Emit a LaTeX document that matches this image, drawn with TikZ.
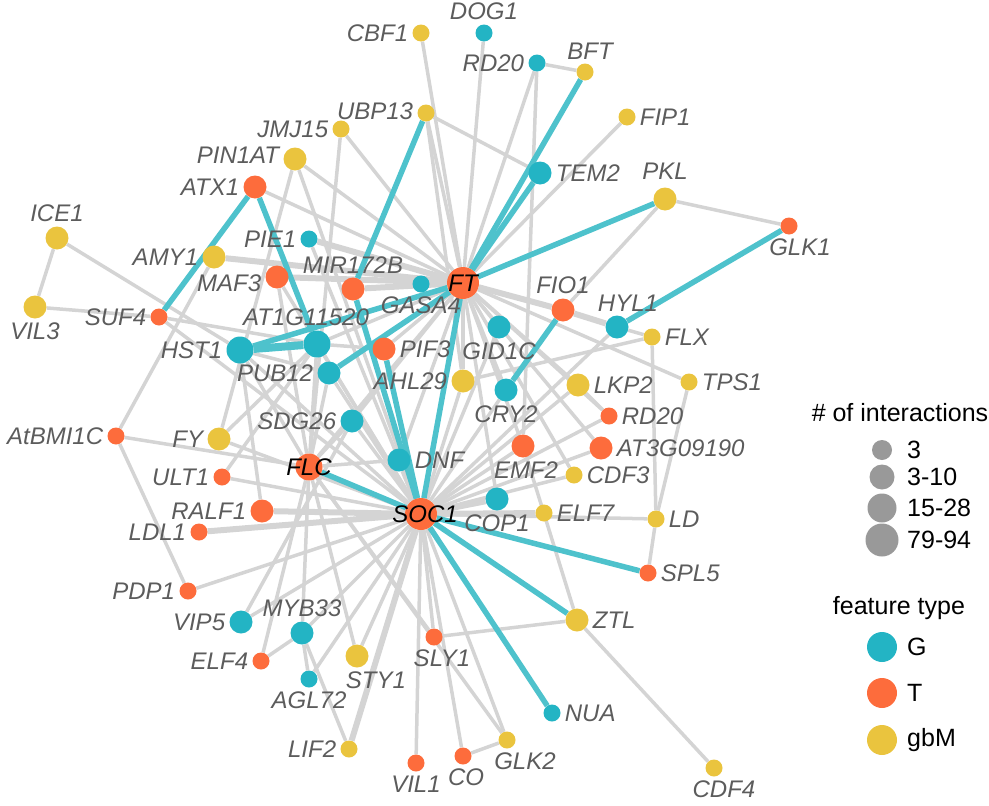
\documentclass[tikz,border=0pt]{standalone}
\usepackage{fontspec}
\setmainfont{Liberation Sans}
\usetikzlibrary{backgrounds}
\definecolor{gcol}{RGB}{35,180,196}
\definecolor{tcol}{RGB}{253,108,60}
\definecolor{mcol}{RGB}{234,196,62}
\definecolor{tealedge}{RGB}{78,194,204}
\definecolor{edgegray}{RGB}{212,212,212}
\definecolor{labgray}{RGB}{92,92,92}
\definecolor{keygray}{RGB}{153,153,153}
\begin{document}
\begin{tikzpicture}[x=1pt, y=-1pt,
		nd/.style={circle, inner sep=0pt},
		G/.style={nd, fill=gcol}, T/.style={nd, fill=tcol}, M/.style={nd, fill=mcol},
		s1/.style={minimum size=17pt}, s2/.style={minimum size=23pt},
		s3/.style={minimum size=27pt}, s4/.style={minimum size=32pt},
		lb/.style={font=\itshape\fontsize{24}{24}\selectfont, text=labgray, inner sep=1pt},
		hub/.style={font=\itshape\fontsize{24}{24}\selectfont, text=black, inner sep=0pt},
		every label/.style={lb}, label distance=3pt,
		key/.style={font=\fontsize{25}{25}\selectfont, text=black, inner sep=0pt},
		gline/.style={draw=edgegray, line width=3.5pt},
		gwide/.style={draw=edgegray, line width=6pt},
		tline/.style={draw=tealedge, line width=5.5pt},
		twide/.style={draw=tealedge, line width=8pt}]
		\useasboundingbox (0,0) rectangle (989,806);
		\node[M,s1,label=left:CBF1] (CBF1) at (421,33) {};
		\node[G,s1,label=above:DOG1] (DOG1) at (484,33) {};
		\node[G,s1,label=left:RD20] (RD20a) at (537,63) {};
		\node[M,s1,label={[xshift=5pt]above:BFT}] (BFT) at (585,72) {};
		\node[M,s1,label=right:FIP1] (FIP1) at (627,117) {};
		\node[M,s1,label={[yshift=2pt]left:UBP13}] (UBP13) at (426,113) {};
		\node[M,s1,label=left:JMJ15] (JMJ15) at (341,129) {};
		\node[M,s2,label={[yshift=4pt]left:PIN1AT}] (PIN1AT) at (295,159) {};
		\node[T,s2,label=left:ATX1] (ATX1) at (255,187) {};
		\node[G,s2,label=right:TEM2] (TEM2) at (540,173) {};
		\node[M,s2,label={[label distance=7pt]above:PKL}] (PKL) at (665,199) {};
		\node[T,s1,label={[xshift=11pt]below:GLK1}] (GLK1) at (789,226) {};
		\node[M,s2,label=above:ICE1] (ICE1) at (57,238) {};
		\node[M,s2,label=left:AMY1] (AMY1) at (214,257) {};
		\node[G,s1,label=left:PIE1] (PIE1) at (309,239) {};
		\node[T,s2,label={[yshift=-6pt]left:MAF3}] (MAF3) at (277,277) {};
		\node[T,s2,label=above:MIR172B] (MIR172B) at (353,289) {};
		\node[G,s1,label=below:GASA4] (GASA4) at (421,284) {};
		\node[T,s4,label={[hub]center:FT}] (FT) at (463,283) {};
		\node[M,s2,label=below:VIL3] (VIL3) at (35,307) {};
		\node[T,s1,label=left:SUF4] (SUF4) at (159,317) {};
		\node[G,s3,label={[xshift=-11pt]above:AT1G11520}] (AT1G11520) at (317,344) {};
		\node[G,s3,label=left:HST1] (HST1) at (240,350) {};
		\node[T,s2,label=right:PIF3] (PIF3) at (384,349) {};
		\node[G,s2,label=left:PUB12] (PUB12) at (329,373) {};
		\node[M,s2,label=left:AHL29] (AHL29) at (463,381) {};
		\node[G,s2,label=below:GID1C] (GID1C) at (499,327) {};
		\node[T,s2,label=above:FIO1] (FIO1) at (563,310) {};
		\node[G,s2,label={[xshift=11pt]above:HYL1}] (HYL1) at (617,327) {};
		\node[M,s1,label=right:FLX] (FLX) at (652,337) {};
		\node[G,s2,label=below:CRY2] (CRY2) at (506,390) {};
		\node[M,s2,label=right:LKP2] (LKP2) at (578,385) {};
		\node[M,s1,label=right:TPS1] (TPS1) at (689,382) {};
		\node[T,s1,label=right:RD20] (RD20b) at (609,416) {};
		\node[T,s2,label=right:AT3G09190] (AT3G09190) at (601,448) {};
		\node[G,s2,label=left:SDG26] (SDG26) at (352,421) {};
		\node[T,s1,label=left:AtBMI1C] (AtBMI1C) at (116,436) {};
		\node[M,s2,label=left:FY] (FY) at (219,439) {};
		\node[T,s3,label={[hub]center:FLC}] (FLC) at (309,467) {};
		\node[G,s2,label=right:DNF] (DNF) at (399,460) {};
		\node[T,s2,label={[xshift=3pt]below:EMF2}] (EMF2) at (523,446) {};
		\node[M,s1,label=right:CDF3] (CDF3) at (574,475) {};
		\node[T,s1,label=left:ULT1] (ULT1) at (222,477) {};
		\node[T,s2,label=left:RALF1] (RALF1) at (262,511) {};
		\node[T,s4,label={[hub,xshift=4pt]center:SOC1}] (SOC1) at (421,514) {};
		\node[G,s2,label=below:COP1] (COP1) at (497,499) {};
		\node[M,s1,label=right:ELF7] (ELF7) at (544,513) {};
		\node[M,s1,label=right:LD] (LD) at (656,519) {};
		\node[T,s1,label=left:LDL1] (LDL1) at (199,532) {};
		\node[T,s1,label=right:SPL5] (SPL5) at (648,573) {};
		\node[T,s1,label=left:PDP1] (PDP1) at (188,591) {};
		\node[G,s2,label=left:VIP5] (VIP5) at (241,622) {};
		\node[G,s2,label=above:MYB33] (MYB33) at (302,633) {};
		\node[M,s2,label=right:ZTL] (ZTL) at (577,620) {};
		\node[T,s1,label={[xshift=8pt]below:SLY1}] (SLY1) at (434,637) {};
		\node[T,s1,label=left:ELF4] (ELF4) at (261,661) {};
		\node[M,s2,label={[xshift=19pt]below:STY1}] (STY1) at (357,656) {};
		\node[G,s1,label=below:AGL72] (AGL72) at (309,679) {};
		\node[G,s1,label=right:NUA] (NUA) at (552,713) {};
		\node[M,s1,label=left:LIF2] (LIF2) at (349,749) {};
		\node[M,s1,label={[xshift=18pt]below:GLK2}] (GLK2) at (507,740) {};
		\node[T,s1,label={[xshift=3pt]below:CO}] (CO) at (463,756) {};
		\node[T,s1,label=below:VIL1] (VIL1) at (416,763) {};
		\node[M,s1,label={[xshift=10pt]below:CDF4}] (CDF4) at (714,768) {};
		\begin{scope}[on background layer]
			\foreach \a/\b in {FT/CBF1, FT/DOG1, FT/RD20a, FT/UBP13, FT/JMJ15, FT/PIN1AT, FT/ATX1,
				FT/FIP1, FT/TPS1, FT/GID1C, FT/CRY2, FT/AHL29, FT/LKP2, FT/RD20b, FT/AT3G09190,
				FT/EMF2, FT/CDF3, FT/DNF, FT/SDG26, FT/AT1G11520, FT/PIF3, FT/COP1, FT/FLC,
				SOC1/HST1, SOC1/AT1G11520, SOC1/PUB12, SOC1/SDG26, SOC1/FY, SOC1/ULT1, SOC1/PDP1,
				SOC1/VIP5, SOC1/MYB33, SOC1/AGL72, SOC1/STY1, SOC1/VIL1, SOC1/CO, SOC1/GLK2,
				SOC1/SLY1, SOC1/CDF3, SOC1/EMF2, SOC1/AT3G09190, SOC1/RD20b, SOC1/LKP2, SOC1/CRY2,
				SOC1/GID1C, SOC1/AHL29, SOC1/HYL1, SOC1/SUF4, SOC1/PIN1AT, SOC1/MAF3, SOC1/PIE1,
				SOC1/LD, FLC/HST1, FLC/PUB12, FLC/AT1G11520, FLC/SDG26, FLC/DNF, FLC/AtBMI1C,
				FLC/JMJ15, FLC/MYB33, FLC/ELF4, FLC/STY1, FLC/SLY1, FLC/GLK2, FLC/MAF3,
				RD20a/BFT, RD20a/EMF2, UBP13/TEM2, UBP13/AHL29, PKL/GLK1, PKL/FIO1, HYL1/FLX,
				FLX/LD, TPS1/LD, LD/SPL5, EMF2/ZTL, ZTL/SLY1, ZTL/CDF4, CO/GLK2, ICE1/VIL3,
				ICE1/HST1, VIL3/SUF4, SUF4/AT1G11520, AtBMI1C/AMY1, AtBMI1C/PDP1, PIN1AT/FY,
				MYB33/AGL72, MYB33/LIF2, ELF4/MYB33, VIP5/SDG26, PIF3/AT1G11520, FLX/AHL29,
				HST1/RALF1, HST1/PUB12, LKP2/RD20b, ULT1/AT1G11520, FY/AT1G11520}
				\draw[gline] (\a) -- (\b);
			\foreach \a/\b in {FT/MIR172B, FT/GASA4, FT/FIO1, FIO1/HYL1, FT/AMY1, FT/PIE1,
				FT/MAF3, SOC1/RALF1, SOC1/LDL1, SOC1/ELF7, SOC1/COP1, SOC1/LIF2, SOC1/DNF}
				\draw[gwide] (\a) -- (\b);
			\foreach \a/\b in {ATX1/SUF4, ATX1/AT1G11520, HST1/FT, PUB12/FT, UBP13/MIR172B,
				MIR172B/SOC1, PIF3/SOC1, FT/SOC1, FT/BFT, FT/TEM2, FT/PKL, HYL1/GLK1,
				FIO1/CRY2, FLC/SOC1, SOC1/SPL5, SOC1/ZTL, SOC1/NUA}
				\draw[tline] (\a) -- (\b);
			\draw[twide] (HST1) -- (AT1G11520);
		\end{scope}
		\node[key] (sizetitle) at (900,413) {\# of interactions};
		\node[nd, fill=keygray, minimum size=20pt] (k1) at (882,450) {};
		\node[nd, fill=keygray, minimum size=25pt] (k2) at (882,477) {};
		\node[nd, fill=keygray, minimum size=29pt] (k3) at (882,508) {};
		\node[nd, fill=keygray, minimum size=33pt] (k4) at (882,540) {};
		\node[key, anchor=west] (k1t) at (907,450) {3};
		\node[key, anchor=west] (k2t) at (907,477) {3-10};
		\node[key, anchor=west] (k3t) at (907,508) {15-28};
		\node[key, anchor=west] (k4t) at (907,540) {79-94};
		\node[key] (typetitle) at (899,608) {feature type};
		\node[G, minimum size=30pt] (fG) at (882,647) {};
		\node[T, minimum size=30pt] (fT) at (882,693) {};
		\node[M, minimum size=30pt] (fM) at (882,740) {};
		\node[key, anchor=west] (fGt) at (907,647) {G};
		\node[key, anchor=west] (fTt) at (907,693) {T};
		\node[key, anchor=west] (fMt) at (907,740) {gbM};
\end{tikzpicture}
\end{document}
